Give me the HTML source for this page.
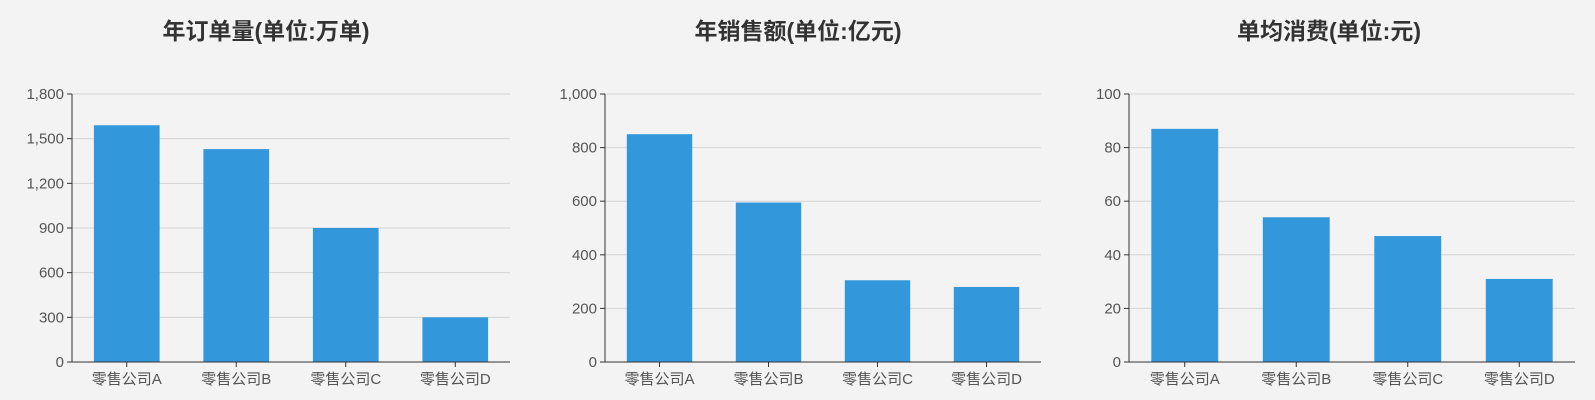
<!DOCTYPE html>
<html><head><meta charset="utf-8">
<style>
html,body{margin:0;padding:0;background:#f3f3f3;}
svg{display:block;font-family:"Liberation Sans","Noto Sans CJK SC",sans-serif;}
</style></head>
<body>
<svg id="chart" width="1595" height="400" viewBox="0 0 1595 400">
<rect x="0" y="0" width="1595" height="400" fill="#f3f3f3"/>
</svg>
<script>
const categories = ["零售公司A","零售公司B","零售公司C","零售公司D"];
const ordersValues = [1590, 1430, 900, 300];
const ordersTicks = [0, 300, 600, 900, 1200, 1500, 1800];
const salesValues = [850, 595, 305, 280];
const salesTicks = [0, 200, 400, 600, 800, 1000];
const avgValues = [87, 54, 47, 31];
const avgTicks = [0, 20, 40, 60, 80, 100];
const titles = ["年订单量(单位:万单)", "年销售额(单位:亿元)", "单均消费(单位:元)"];

const NS = "http://www.w3.org/2000/svg";
const svgRoot = document.getElementById("chart");
function mk(tag, attrs, parent){
  const e = document.createElementNS(NS, tag);
  for (const k in attrs) e.setAttribute(k, attrs[k]);
  (parent||svgRoot).appendChild(e);
  return e;
}
function fmt(v){ return v.toLocaleString("en-US"); }

const panels = [
  {values: ordersValues, ticks: ordersTicks, title: titles[0], cx: 266, left: 72, right: 510, key: "orders"},
  {values: salesValues, ticks: salesTicks, title: titles[1], cx: 798, left: 605, right: 1041, key: "sales"},
  {values: avgValues, ticks: avgTicks, title: titles[2], cx: 1329, left: 1129, right: 1575, key: "avg"}
];
const plotTop = 94, plotBottom = 362;

panels.forEach(p => {
  const g = mk("g", {});
  
  
  const t = mk("text", {x: p.cx, y: 39, "text-anchor": "middle", "font-size": 23, "font-weight": "bold", fill: "#333"}, g);
  t.textContent = p.title;
  
  
  const maxV = p.ticks[p.ticks.length-1];
  const y = v => plotBottom - (v / maxV) * (plotBottom - plotTop);
  const band = (p.right - p.left) / categories.length;
  const xc = i => p.left + band * (i + 0.5);
  p.ticks.forEach(tv => {
    const yy = y(tv);
    if (tv !== 0) {
      const gl = mk("line", {x1: p.left, x2: p.right, y1: yy, y2: yy, stroke: "#d4d4d4", "stroke-width": 1}, g);
      
      
    }
    mk("line", {x1: p.left - 5, x2: p.left, y1: yy, y2: yy, stroke: "#333", "stroke-width": 1}, g);
    const lb = mk("text", {x: p.left - 8, y: yy + 5, "text-anchor": "end", "font-size": 15, fill: "#555"}, g);
    lb.textContent = fmt(tv);
    
    
  });
  p.values.forEach((v, i) => {
    const w = band * 0.6;
    const r = mk("rect", {x: xc(i) - w/2, y: y(v), width: w, height: plotBottom - y(v), fill: "#3398db"}, g);
    
    
  });
  const ya = mk("line", {x1: p.left, x2: p.left, y1: plotTop, y2: plotBottom, stroke: "#333", "stroke-width": 1}, g);
  
  
  const xa = mk("line", {x1: p.left, x2: p.right, y1: plotBottom, y2: plotBottom, stroke: "#333", "stroke-width": 1}, g);
  
  
  categories.forEach((c, i) => {
    mk("line", {x1: xc(i), x2: xc(i), y1: plotBottom, y2: plotBottom + 5, stroke: "#333", "stroke-width": 1}, g);
    const lb = mk("text", {x: xc(i), y: plotBottom + 22, "text-anchor": "middle", "font-size": 15, fill: "#555"}, g);
    lb.textContent = c;
    
    
  });
});
</script>
</body></html>
